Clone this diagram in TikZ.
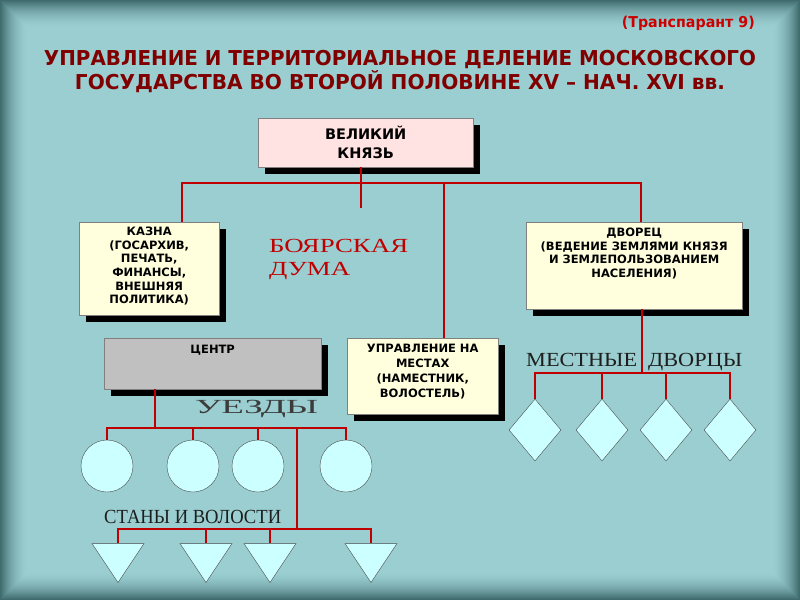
\documentclass[tikz,border=0pt]{standalone}
\usepackage{fontspec}
\setmainfont{Liberation Serif}
\newfontfamily\boxfont{DejaVu Sans}
\usetikzlibrary{shapes.geometric,shadows}

\definecolor{bgteal}{HTML}{9BCFD2}
\definecolor{bgdark}{HTML}{3F6B6D}
\definecolor{linered}{HTML}{C00000}
\definecolor{titlered}{HTML}{800000}
\definecolor{notered}{HTML}{CC0000}
\definecolor{paleyellow}{HTML}{FFFFDD}
\definecolor{palepink}{HTML}{FFE2E2}
\definecolor{boxgray}{HTML}{C0C0C0}
\definecolor{palecyan}{HTML}{CCFFFF}
\definecolor{darkink}{HTML}{1E1E1E}
\definecolor{uezdink}{HTML}{3C3C3C}

\newcommand{\stretchto}[2]{\resizebox{#1}{\height}{#2}}

\tikzset{
    orgbox/.style={draw=gray, fill=paleyellow, inner sep=0pt, anchor=north west,
        drop shadow={shadow xshift=7pt, shadow yshift=-7pt, fill=black, opacity=1}},
    boxtext/.style={anchor=north, align=center, inner sep=0pt,
        font=\boxfont\bfseries\fontsize{11.5}{13.6}\selectfont},
    titletext/.style={anchor=base, inner sep=0pt, text=titlered,
        font=\boxfont\bfseries\fontsize{20.5}{22}\selectfont},
    serifword/.style={anchor=base west, inner sep=0pt, text=darkink,
        font=\fontsize{20}{22}\selectfont},
    redline/.style={draw=linered, line width=2pt},
    leafshape/.style={draw=black!70, fill=palecyan, inner sep=0pt},
    uezd/.style={leafshape, circle, minimum size=52pt},
    dvor/.style={leafshape, diamond, minimum width=52pt, minimum height=62pt},
    stan/.style={leafshape, isosceles triangle, shape border rotate=270,
        isosceles triangle stretches, minimum width=52pt, minimum height=39pt}
}

\begin{document}
\begin{tikzpicture}[x=1pt,y=-1pt]
        % Draw background with dark edges
        \useasboundingbox (0,0) rectangle (800,600);
        \foreach \i in {0,...,29} {
            \pgfmathtruncatemacro{\mixval}{100*(1-(1-\i/30)^2)}
            \fill[bgteal!\mixval!bgdark] (\i,\i) rectangle (800-\i,600-\i);
        }
        % Draw header
        \node[anchor=base east, inner sep=0pt, text=notered, font=\boxfont\bfseries\fontsize{15}{17}\selectfont] (slideno) at (755,27) {\stretchto{133pt}{(Транспарант 9)}};
        \node[titletext] (titleone) at (400,65) {\stretchto{712pt}{УПРАВЛЕНИЕ И ТЕРРИТОРИАЛЬНОЕ ДЕЛЕНИЕ МОСКОВСКОГО}};
        \node[titletext] (titletwo) at (400,89) {\stretchto{650pt}{ГОСУДАРСТВА ВО ВТОРОЙ ПОЛОВИНЕ XV – НАЧ. XVI вв.}};
        % Draw boxes
        \node[orgbox, fill=palepink, minimum width=215pt, minimum height=49pt, align=center,
            font=\boxfont\bfseries\fontsize{14.5}{19}\selectfont] (knyaz) at (258,118) {ВЕЛИКИЙ\\КНЯЗЬ};
        \node[orgbox, minimum width=140pt, minimum height=93pt] (kazna) at (79,222) {};
        \node[boxtext] (kaznatext) at ([yshift=-5pt]kazna.north) {КАЗНА\\(ГОСАРХИВ,\\ПЕЧАТЬ,\\ФИНАНСЫ,\\ВНЕШНЯЯ\\ПОЛИТИКА)};
        \node[orgbox, minimum width=216pt, minimum height=87pt] (dvorets) at (526,222) {};
        \node[boxtext] (dvoretstext) at ([yshift=-6pt]dvorets.north) {ДВОРЕЦ\\(ВЕДЕНИЕ ЗЕМЛЯМИ КНЯЗЯ\\И ЗЕМЛЕПОЛЬЗОВАНИЕМ\\НАСЕЛЕНИЯ)};
        \node[orgbox, fill=boxgray, minimum width=217pt, minimum height=51pt] (center) at (104,338) {};
        \node[boxtext] (centertext) at ([yshift=-7pt]center.north) {ЦЕНТР};
        \node[orgbox, minimum width=151pt, minimum height=76pt] (mesta) at (347,338) {};
        \node[boxtext, font=\boxfont\bfseries\fontsize{11.5}{15}\selectfont] (mestatext) at ([yshift=-6pt]mesta.north) {УПРАВЛЕНИЕ НА\\МЕСТАХ\\(НАМЕСТНИК,\\ВОЛОСТЕЛЬ)};
        % Draw captions
        \node[serifword, text=linered] (boyare) at (269,252) {\stretchto{139pt}{БОЯРСКАЯ}};
        \node[serifword, text=linered] (duma) at (269,275) {\stretchto{81pt}{ДУМА}};
        \node[serifword, text=uezdink] (uezdy) at (195,413) {\stretchto{123pt}{УЕЗДЫ}};
        \node[serifword] (mestnye) at (526,366) {\stretchto{111pt}{МЕСТНЫЕ}};
        \node[serifword] (dvortsy) at (648,366) {\stretchto{94pt}{ДВОРЦЫ}};
        \node[serifword] (stany) at (104,523) {\stretchto{177pt}{СТАНЫ И ВОЛОСТИ}};
        % Draw districts, palaces and volosts
        \foreach \x [count=\n] in {107,193,258,346} {
            \node[uezd] (u\n) at (\x,466) {};
        }
        \foreach \x [count=\n] in {535,602,666,730} {
            \node[dvor] (d\n) at (\x,430) {};
        }
        \foreach \x [count=\n] in {118,206,270,371} {
            \node[stan] (s\n) at (\x,557.5) {};
        }
        % Draw red connectors
        \draw[redline] ([xshift=-5pt]knyaz.south) -- ++(0,41) coordinate (dumaend);
        \draw[redline] ([xshift=33pt]kazna.north) -- ++(0,-39) -| ([xshift=7pt]dvorets.north);
        \draw[redline] ([xshift=21.5pt]mesta.north) -- ++(0,-155);
        \draw[redline] ([xshift=8pt]dvorets.south) -- ++(0,64);
        \draw[redline] (d1.north) -- ++(0,-26) -| (d4.north);
        \foreach \n in {2,3} {
            \draw[redline] (d\n.north) -- ++(0,-26);
        }
        \draw[redline] ([xshift=-57.5pt]center.south) -- ++(0,39);
        \draw[redline] (u1.north) -- ++(0,-12) -| (u4.north);
        \foreach \n in {2,3} {
            \draw[redline] (u\n.north) -- ++(0,-12);
        }
        \coordinate (uezdjoin) at (297,428);
        \coordinate (stanjoin) at (297,529);
        \draw[redline] (uezdjoin) -- (stanjoin);
        \draw[redline] (s1.north) -- ++(0,-14) -| (s4.north);
        \foreach \n in {2,3} {
            \draw[redline] (s\n.north) -- ++(0,-14);
        }
    \end{tikzpicture}
\end{document}
